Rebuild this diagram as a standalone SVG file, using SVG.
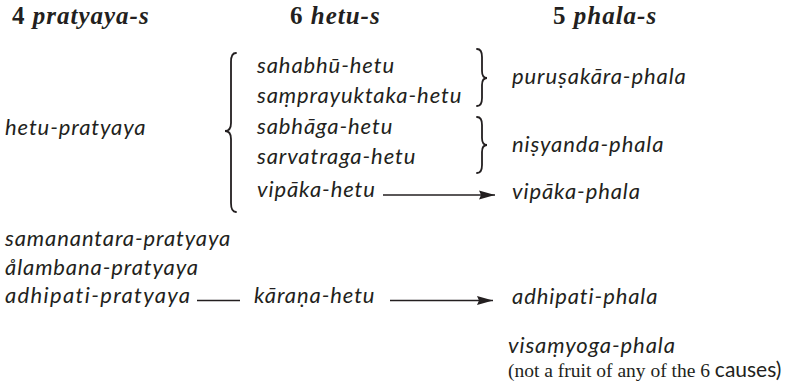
<svg xmlns="http://www.w3.org/2000/svg" width="790" height="390" viewBox="0 0 790 390">
<style>
.t{font-family:"Liberation Serif",serif;font-weight:bold;font-style:italic;font-size:25px;letter-spacing:1px;fill:#231f20}
.n{font-style:normal}
.b{font-family:Lato,"Noto Sans",sans-serif;font-style:italic;font-size:22px;letter-spacing:0.9px;fill:#231f20}
.r{font-family:"Liberation Serif",serif;font-size:19.5px;fill:#231f20}
.s{font-family:Lato,"Noto Sans",sans-serif;font-size:21px}
.ln{stroke:#231f20;stroke-width:1.3;fill:none}
.br{stroke:#231f20;stroke-width:1.8;fill:none;stroke-linecap:round}
</style>
<defs>
<marker id="ah" markerUnits="userSpaceOnUse" markerWidth="17" markerHeight="10" refX="16" refY="5" orient="auto">
<path d="M0,0.5 L16,5 L0,9.5 L2,5 Z" fill="#231f20"/>
</marker>
</defs>
<g id="headers">
<text class="t" x="12" y="24"><tspan class="n">4</tspan> pratyaya-s</text>
<text class="t" x="290" y="24"><tspan class="n">6</tspan> hetu-s</text>
<text class="t" x="553" y="24"><tspan class="n">5</tspan> phala-s</text>
</g>
<g id="pratyaya">
<text class="b" x="5" y="135">hetu-pratyaya</text>
<text class="b" x="5" y="246">samanantara-pratyaya</text>
<text class="b" x="5" y="275">ålambana-pratyaya</text>
<text class="b" x="5" y="303" textLength="186">adhipati-pratyaya</text>
</g>
<g id="hetu">
<text class="b" x="257" y="73">sahabhū-hetu</text>
<text class="b" x="257" y="103">saṃprayuktaka-hetu</text>
<text class="b" x="257" y="134">sabhāga-hetu</text>
<text class="b" x="257" y="164">sarvatraga-hetu</text>
<text class="b" x="257" y="197">vipāka-hetu</text>
<text class="b" x="254" y="303">kāraṇa-hetu</text>
</g>
<g id="phala">
<text class="b" x="512" y="84">puruṣakāra-phala</text>
<text class="b" x="512" y="152">niṣyanda-phala</text>
<text class="b" x="512" y="199">vipāka-phala</text>
<text class="b" x="512" y="304">adhipati-phala</text>
<text class="b" x="508" y="353">visaṃyoga-phala</text>
<text class="r" x="508" y="377">(not a fruit of any of the 6 <tspan class="s">causes)</tspan></text>
</g>
<g id="connectors">
<path class="br" d="M236,53 Q231,53 231,62 L231,123 Q231,131 225,131 Q231,131 231,139 L231,203 Q231,212 236,212"/>
<path class="br" d="M477,49 Q482,49 482,57 L482,71 Q482,78 487,78 Q482,78 482,85 L482,98 Q482,106 477,106"/>
<path class="br" d="M477,117 Q482,117 482,125 L482,138 Q482,145 487,145 Q482,145 482,152 L482,165 Q482,173 477,173"/>
<line class="ln" x1="383" y1="195" x2="495" y2="195" marker-end="url(#ah)"/>
<line class="ln" x1="197" y1="300.5" x2="240" y2="300.5"/>
<line class="ln" x1="390" y1="300.5" x2="493" y2="300.5" marker-end="url(#ah)"/>
</g>
</svg>
